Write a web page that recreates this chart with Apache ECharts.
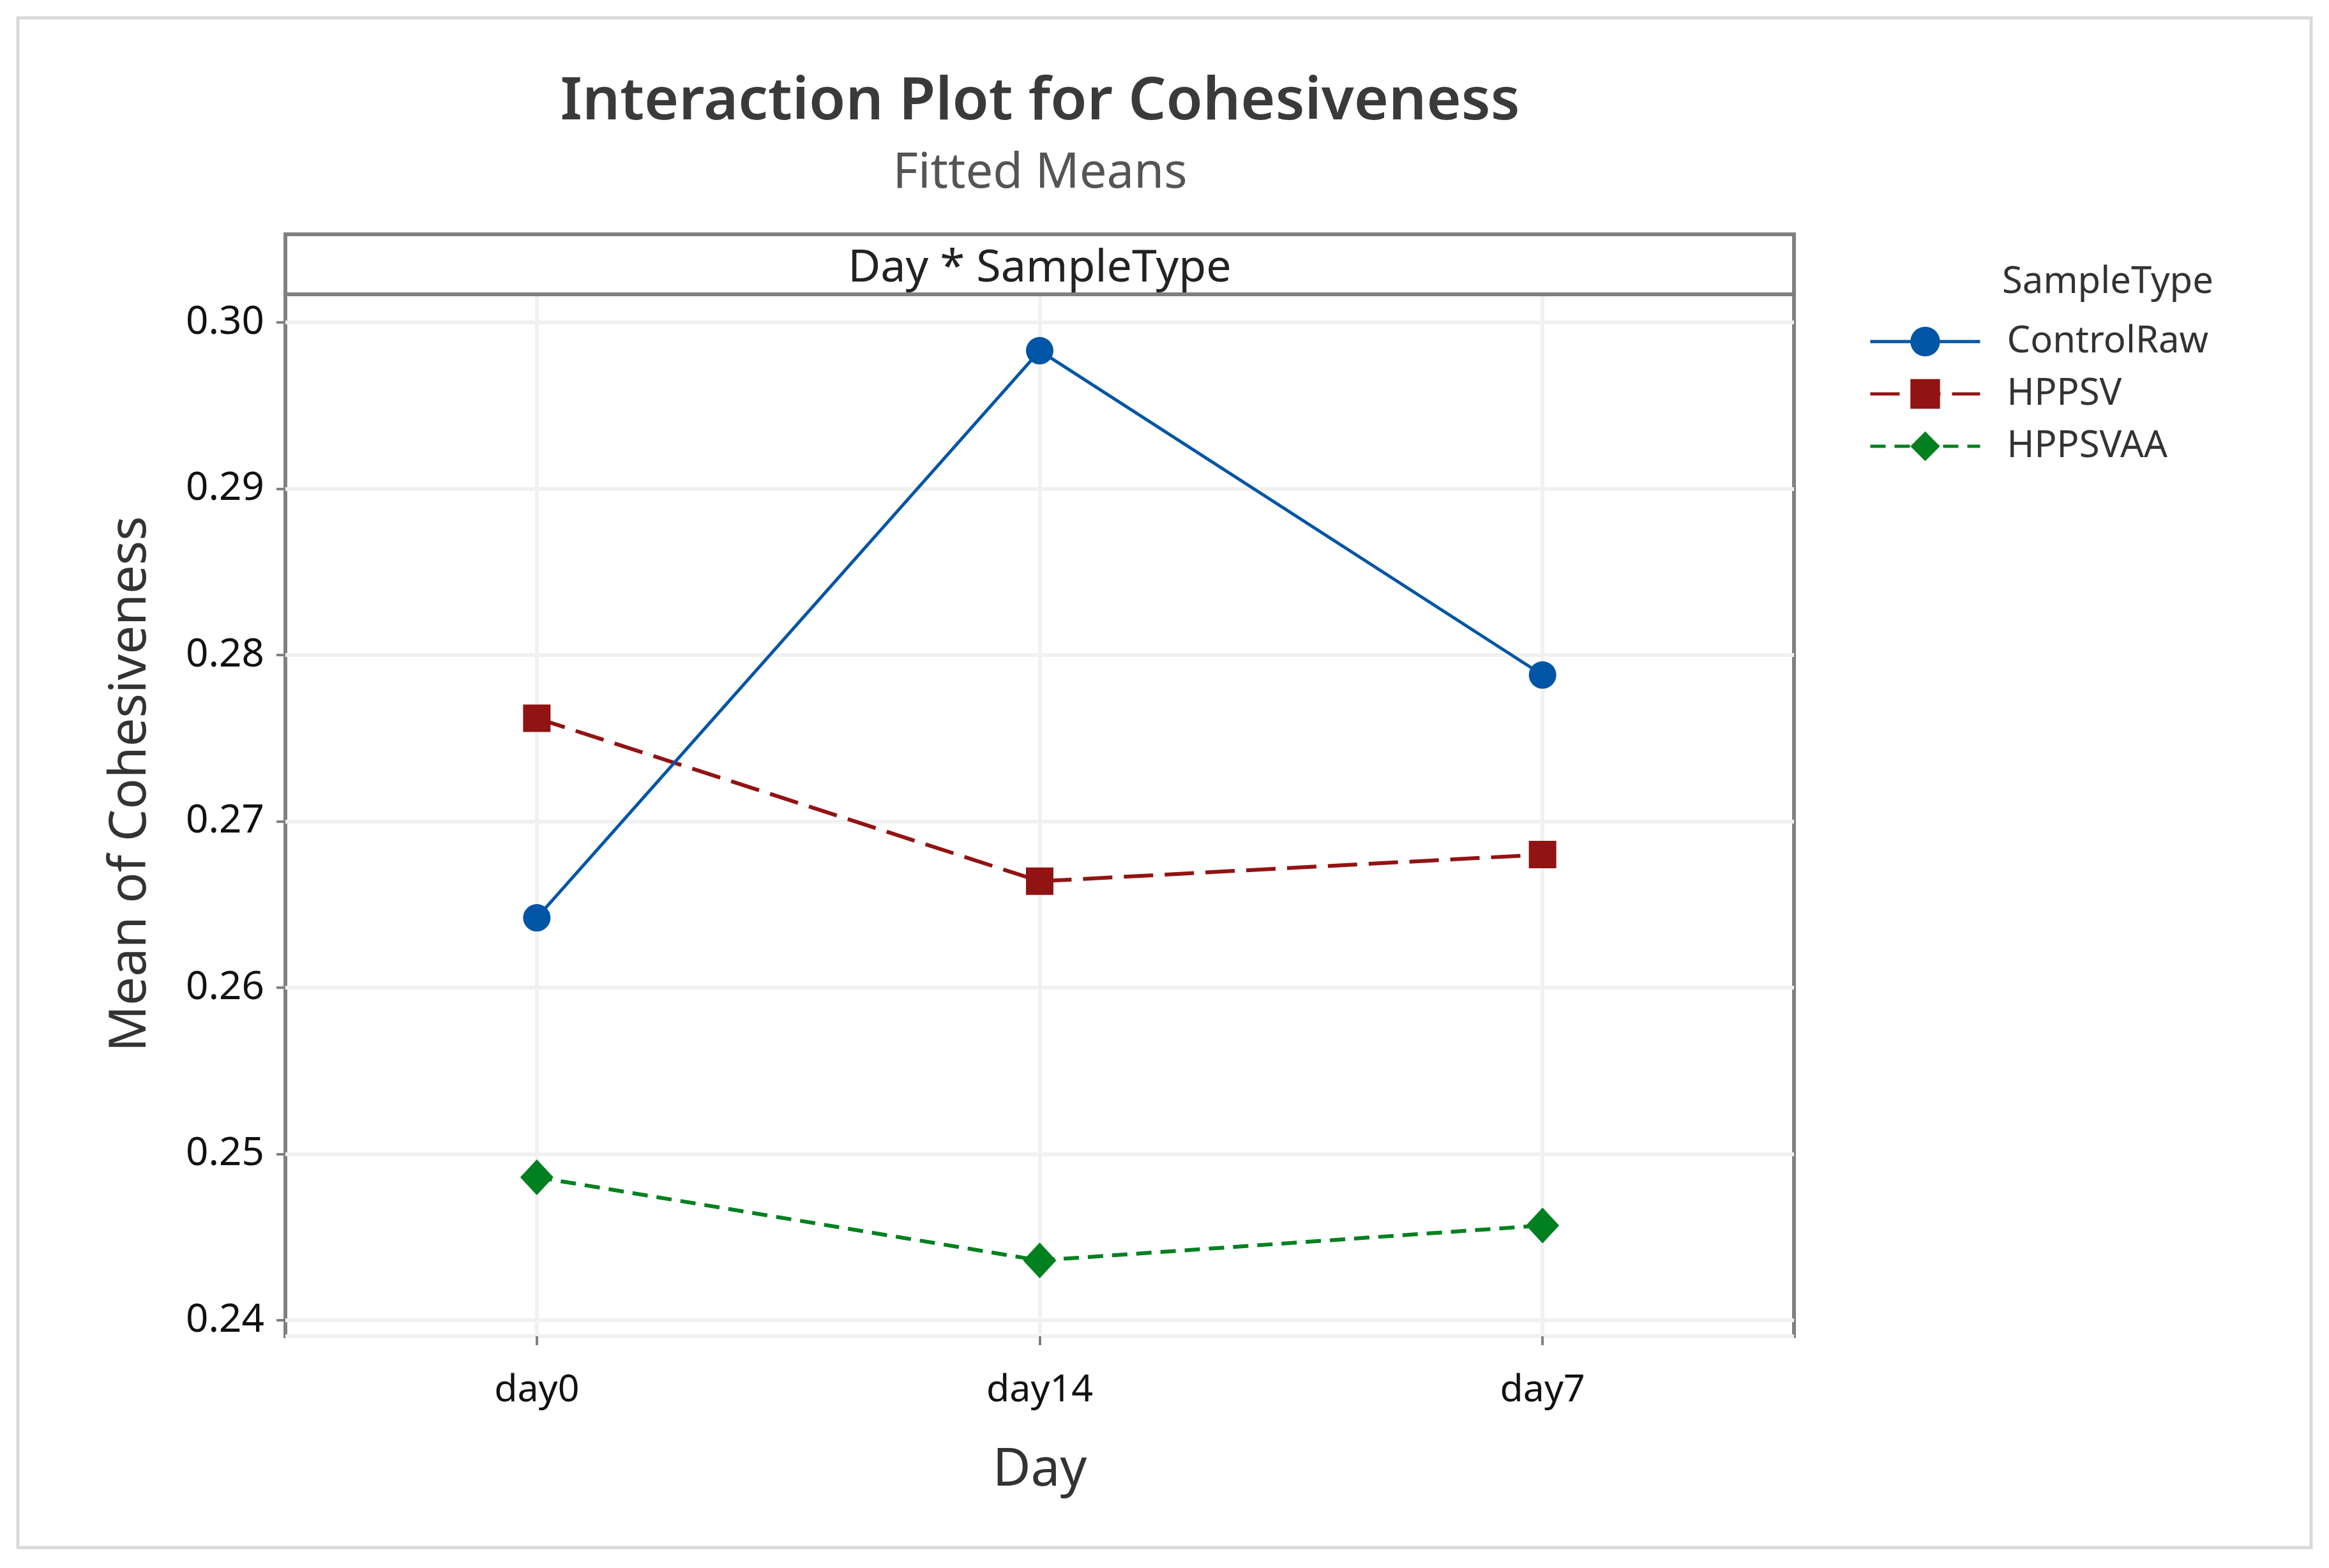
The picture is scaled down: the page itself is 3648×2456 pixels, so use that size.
<!DOCTYPE html>
<html>
<head>
<meta charset="utf-8">
<script src="https://cdn.jsdelivr.net/npm/echarts@6/dist/echarts.min.js"></script>
<style>
html,body{margin:0;padding:0;background:#fff;}
#chart{width:3648px;height:2456px;}
</style>
</head>
<body>
<div id="chart"></div>
<script>
// ---- data ----
const categories = ['day0', 'day14', 'day7'];
const seriesNames = ['ControlRaw', 'HPPSV', 'HPPSVAA'];
const controlRaw = [0.2642, 0.2983, 0.2788];
const hppsv = [0.2762, 0.2664, 0.2680];
const hppsvaa = [0.2486, 0.2436, 0.2457];
const titleText = 'Interaction Plot for Cohesiveness';
const subtitleText = 'Fitted Means';
const stripText = 'Day * SampleType';
const legendTitle = 'SampleType';
const xName = 'Day';
const yName = 'Mean of Cohesiveness';

const FONT = 'Noto Sans';
const G = {left: 447, top: 461, width: 2363, height: 1632};
const STRIP_TOP = 367;
const BOTTOM = G.top + G.height;

const chart = echarts.init(document.getElementById('chart'), null, {renderer: 'canvas'});
const option = {
  backgroundColor: '#ffffff',
  animation: false,
  textStyle: {fontFamily: FONT},
  grid: {left: G.left, top: G.top, width: G.width, height: G.height,
         show: true, borderColor: '#808080', borderWidth: 6, backgroundColor: '#ffffff'},
  graphic: [
    {type: 'rect', z: -10, shape: {x: 28, y: 28, width: 3592, height: 2396},
     style: {fill: 'none', stroke: '#d9d9d9', lineWidth: 5}},
    // white covers for stray edge ticks outside the frame corners
    {type: 'rect', zlevel: 1, z: 100, shape: {x: 410, y: G.top - 10, width: 33, height: 20}, style: {fill: '#ffffff'}},
    {type: 'rect', zlevel: 1, z: 100, shape: {x: 410, y: BOTTOM - 10, width: 33, height: 20}, style: {fill: '#ffffff'}},
    {type: 'rect', zlevel: 1, z: 100, shape: {x: G.left - 14, y: BOTTOM + 4, width: 28, height: 30}, style: {fill: '#ffffff'}},
    {type: 'rect', zlevel: 1, z: 100, shape: {x: G.left + G.width - 14, y: BOTTOM + 4, width: 28, height: 30}, style: {fill: '#ffffff'}},
    {type: 'rect', z: 10, shape: {x: G.left, y: STRIP_TOP, width: G.width, height: G.top - STRIP_TOP},
     style: {fill: '#ffffff', stroke: '#808080', lineWidth: 6}},
    {type: 'text', z: 11, x: G.left + G.width / 2, y: 421,
     style: {text: stripText, font: '70px "Noto Sans"', fill: '#222222', textAlign: 'center', textVerticalAlign: 'middle'}},
    {type: 'text', z: 11, x: 1629, y: 160,
     style: {text: titleText, font: '600 93px "Noto Sans"', fill: '#3a3a3a', textAlign: 'center', textVerticalAlign: 'middle'}},
    {type: 'text', z: 11, x: 1629, y: 272,
     style: {text: subtitleText, font: '76px "Noto Sans"', fill: '#555555', textAlign: 'center', textVerticalAlign: 'middle'}},
    {type: 'text', z: 11, x: 3136, y: 442,
     style: {text: legendTitle, font: '58px "Noto Sans"', fill: '#333333', textAlign: 'left', textVerticalAlign: 'middle'}},
    {type: 'text', z: 11, x: 205, y: 1228, rotation: Math.PI / 2,
     style: {text: yName, font: '80px "Noto Sans"', fill: '#333333', textAlign: 'center', textVerticalAlign: 'middle'}}
  ],
  legend: {
    data: seriesNames,
    orient: 'vertical',
    left: 2922, top: 501,
    itemWidth: 172, itemHeight: 58, itemGap: 24,
    lineStyle: {width: 5},
    textStyle: {fontFamily: FONT, fontSize: 58, color: '#333333', padding: [0, 0, 0, 37]}
  },
  xAxis: {
    type: 'category', data: categories, boundaryGap: true,
    name: xName, nameLocation: 'middle', nameGap: 170,
    nameTextStyle: {fontFamily: FONT, fontSize: 82, color: '#333333'},
    axisLine: {show: false},
    axisTick: {show: true, alignWithLabel: true, inside: false, length: 14, lineStyle: {color: '#808080', width: 4}},
    axisLabel: {margin: 56, fontFamily: FONT, fontSize: 59, color: '#111111'},
    splitLine: {show: false}
  },
  yAxis: {
    type: 'value', min: 0.23904, max: 0.30169, splitNumber: 6,
    axisLine: {show: false},
    axisTick: {show: true, inside: false, length: 14, lineStyle: {color: '#808080', width: 4}},
    axisLabel: {margin: 33, fontFamily: FONT, fontSize: 62, color: '#111111',
                showMinLabel: false, showMaxLabel: false,
                formatter: v => v.toFixed(2)},
    splitLine: {show: true, lineStyle: {color: '#f1f1f1', width: 6}}
  },
  series: [
    {name: '_grid', type: 'line', data: categories.map(() => null), z: 1, silent: true,
     markLine: {silent: true, z: 1, symbol: ['none', 'none'], label: {show: false},
                lineStyle: {color: '#f1f1f1', width: 6, type: 'solid'},
                data: categories.map(c => ({xAxis: c}))}},
    {name: seriesNames[0], type: 'line', data: controlRaw, z: 5,
     symbol: 'circle', symbolSize: 43,
     itemStyle: {color: '#0055a6'},
     lineStyle: {color: '#0055a6', width: 5, type: 'solid'}},
    {name: seriesNames[1], type: 'line', data: hppsv, z: 4,
     symbol: 'rect', symbolSize: 43,
     itemStyle: {color: '#921313'},
     lineStyle: {color: '#921313', width: 6, type: [46, 18]}},
    {name: seriesNames[2], type: 'line', data: hppsvaa, z: 4,
     symbol: 'diamond', symbolSize: [52, 56],
     itemStyle: {color: '#00801f'},
     lineStyle: {color: '#00801f', width: 6, type: [24, 14]}}
  ]
};
chart.setOption(option);
</script>
</body>
</html>
